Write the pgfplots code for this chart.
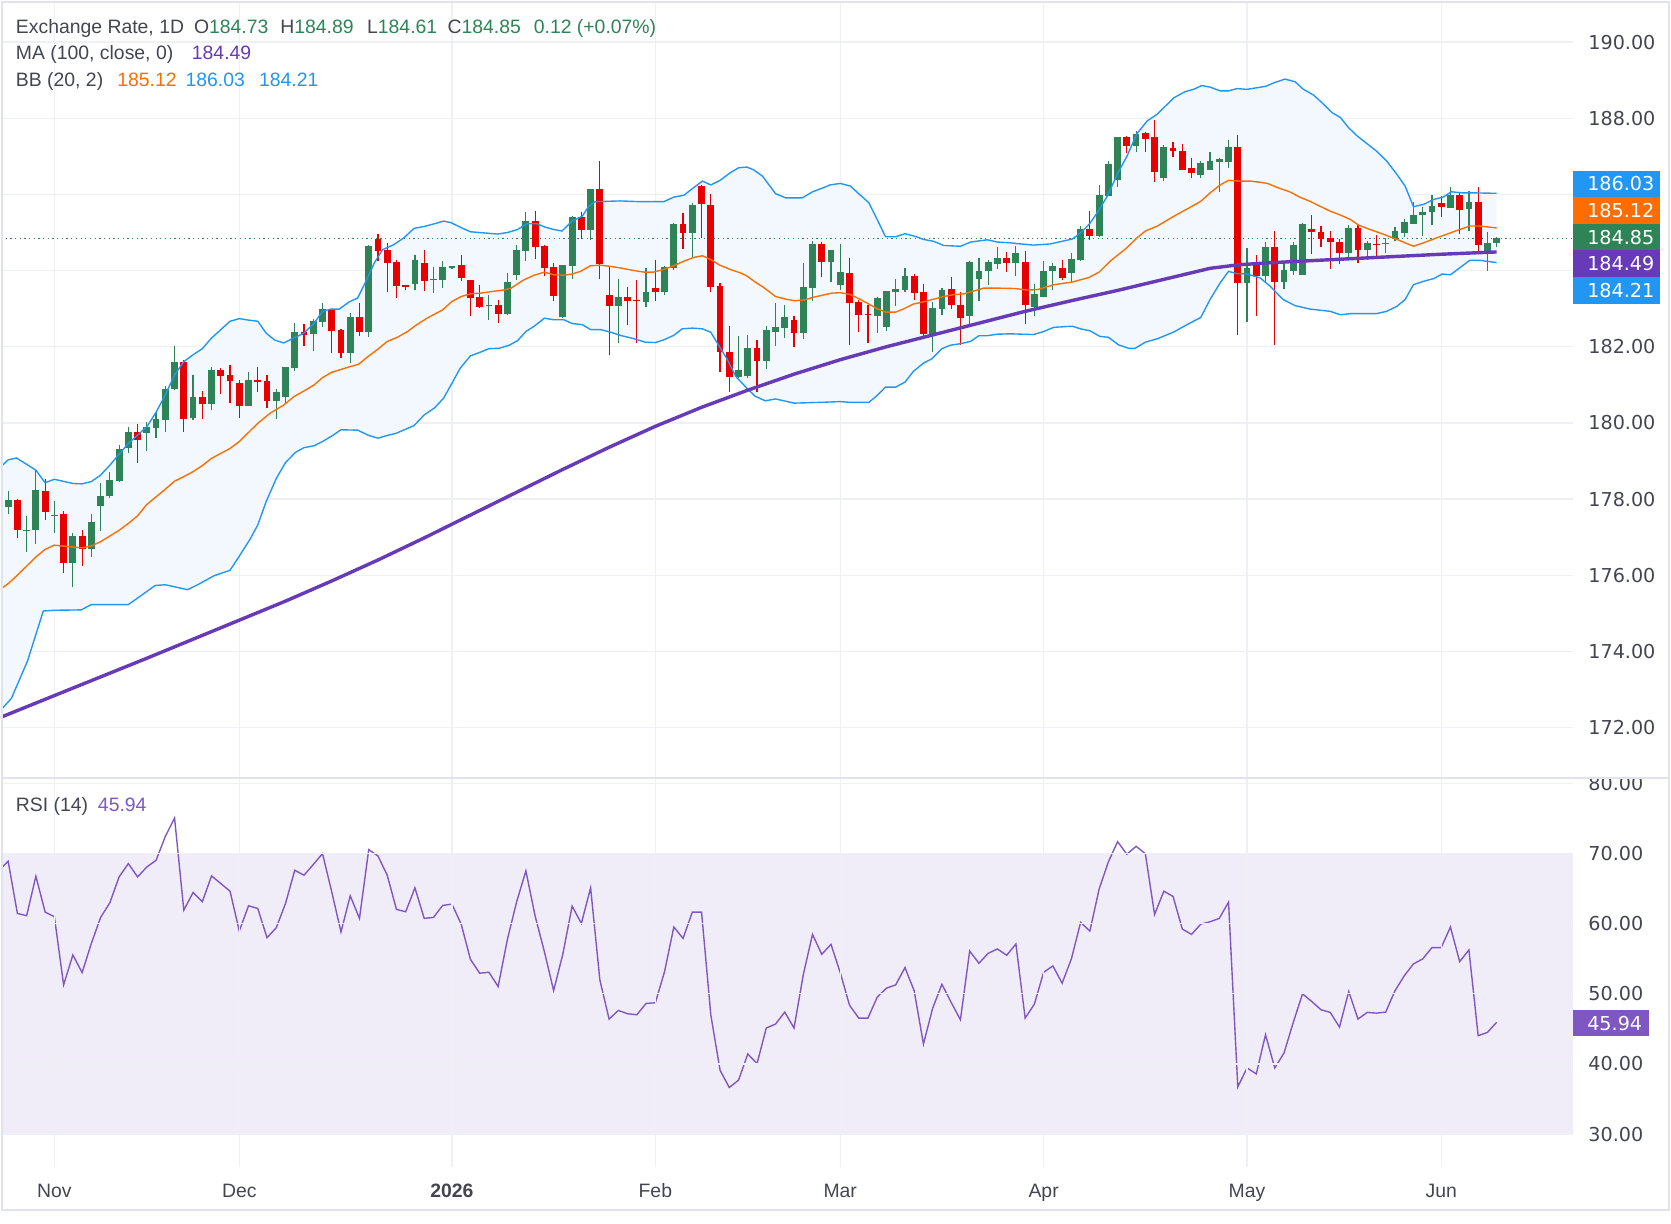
\documentclass[border=0pt]{standalone}
\usepackage{fontspec}
\setmainfont{Liberation Sans}
\newfontfamily\tickfont{DejaVu Sans}
\usepackage{pgfplots}
\pgfplotsset{compat=1.18}
\usepackage{pgfplotstable}

\definecolor{upc}{HTML}{2E8456}
\definecolor{dnc}{HTML}{E60000}
\definecolor{bbblue}{HTML}{2196F3}
\definecolor{bborange}{HTML}{FF6D00}
\definecolor{mapurple}{HTML}{673AB7}
\definecolor{rsipurple}{HTML}{7E57C2}
\definecolor{rsiband}{HTML}{F0ECF8}
\definecolor{bbfill}{HTML}{F2F8FE}
\definecolor{gridc}{HTML}{EEF0F5}
\definecolor{txt}{HTML}{434651}
\definecolor{framec}{HTML}{E0E3EB}
\definecolor{dashc}{HTML}{787B86}

\newcommand\hf{\fontsize{9.1}{11}\selectfont}
\newcommand\tf{\tickfont\fontsize{9}{10}\selectfont}

% daily candles: index, open, high, low, close
\pgfplotstableread[row sep=\\]{
i o h l c\\
0 177.78 178.22 177.62 177.98\\
2 177.16 177.56 176.61 177.18\\
3 177.18 178.79 176.81 178.25\\
5 177.56 177.96 177.10 177.58\\
7 176.33 177.11 175.68 177.04\\
9 176.68 177.60 176.49 177.40\\
10 177.83 178.43 177.16 178.09\\
11 178.07 178.72 178.04 178.51\\
12 178.48 179.42 178.46 179.32\\
13 179.33 179.90 179.20 179.77\\
15 179.73 180.02 179.25 179.88\\
16 179.86 180.28 179.60 180.09\\
17 180.07 180.98 179.77 180.90\\
18 180.89 182.01 180.87 181.61\\
20 180.12 181.25 180.08 180.69\\
22 180.49 181.46 180.33 181.38\\
26 180.44 181.35 180.44 181.14\\
29 180.57 180.89 180.11 180.82\\
30 180.68 181.46 180.50 181.46\\
31 181.44 182.63 181.37 182.40\\
33 182.33 182.74 181.89 182.67\\
34 182.64 183.14 182.51 182.98\\
37 181.83 182.88 181.57 182.77\\
39 182.39 184.68 182.25 184.64\\
44 183.65 184.42 183.49 184.27\\
46 183.75 184.09 183.41 183.78\\
47 183.75 184.25 183.54 184.09\\
48 184.07 184.12 184.03 184.11\\
52 183.06 183.37 182.71 183.08\\
54 182.86 183.94 182.84 183.69\\
55 183.88 184.67 183.75 184.54\\
56 184.51 185.54 184.25 185.30\\
60 182.77 184.14 182.75 184.14\\
61 184.11 185.43 183.78 185.40\\
63 185.07 186.14 184.81 186.14\\
66 183.07 183.77 182.10 183.30\\
69 183.17 184.06 183.04 183.43\\
71 183.44 184.11 183.35 184.09\\
72 184.07 185.25 184.02 185.22\\
74 184.99 185.78 184.35 185.72\\
79 181.20 182.27 181.18 181.38\\
80 181.22 182.30 181.18 181.96\\
82 181.62 182.54 181.41 182.43\\
83 182.40 183.14 182.02 182.51\\
84 182.49 183.09 182.23 182.77\\
86 182.36 184.19 182.20 183.56\\
87 183.54 184.77 183.20 184.69\\
89 184.23 184.54 183.70 184.54\\
90 183.62 184.69 183.49 183.96\\
94 182.81 183.31 182.36 183.27\\
95 182.52 183.46 182.41 183.46\\
96 183.44 183.77 183.07 183.51\\
97 183.48 184.06 183.44 183.85\\
100 182.28 183.17 181.86 183.01\\
101 182.99 183.54 182.84 183.48\\
104 182.81 184.25 182.60 184.22\\
105 183.78 184.32 183.20 183.98\\
106 183.98 184.27 183.62 184.22\\
107 184.17 184.61 184.04 184.32\\
109 184.20 184.64 183.85 184.46\\
111 183.05 183.64 182.82 183.38\\
112 183.32 184.25 183.30 183.98\\
113 183.98 184.19 183.48 184.11\\
115 183.94 184.46 183.70 184.30\\
116 184.27 185.17 184.25 185.10\\
118 184.91 186.25 184.89 185.98\\
119 185.96 186.88 185.96 186.80\\
120 186.39 187.51 186.20 187.51\\
122 187.28 187.67 187.12 187.59\\
125 186.44 187.30 186.36 187.25\\
129 186.52 186.88 186.44 186.82\\
130 186.65 187.11 186.65 186.88\\
131 186.86 186.95 186.07 186.93\\
132 186.86 187.43 186.70 187.25\\
134 183.68 184.59 182.65 184.06\\
136 183.85 184.75 183.67 184.61\\
138 183.70 184.25 183.52 184.01\\
139 183.98 184.75 183.89 184.67\\
140 183.89 185.25 183.89 185.22\\
145 184.45 185.20 184.32 185.12\\
147 184.55 184.77 184.28 184.72\\
149 184.70 184.86 184.46 184.73\\
150 184.82 185.14 184.77 185.04\\
151 184.98 185.35 184.88 185.27\\
152 185.22 185.80 185.22 185.46\\
153 185.46 185.67 184.90 185.54\\
154 185.54 185.98 185.19 185.69\\
156 185.65 186.19 185.65 185.98\\
158 185.61 186.09 185.03 185.80\\
160 184.52 185.01 183.99 184.72\\
161 184.73 184.89 184.61 184.85\\
}\upcandles

\pgfplotstableread[row sep=\\]{
i o h l c\\
1 177.98 178.00 176.97 177.18\\
4 178.22 178.53 177.44 177.65\\
6 177.61 177.68 176.07 176.31\\
8 177.04 177.19 176.25 176.68\\
14 179.77 179.96 178.96 179.54\\
19 181.61 181.65 179.75 180.10\\
21 180.69 180.85 180.11 180.49\\
23 181.38 181.43 180.75 181.23\\
24 181.25 181.51 180.52 181.10\\
25 181.04 181.14 180.12 180.44\\
27 181.14 181.46 180.81 181.07\\
28 181.09 181.26 180.39 180.57\\
32 182.40 182.61 182.02 182.31\\
35 182.98 183.00 181.83 182.41\\
36 182.43 182.47 181.70 181.83\\
38 182.77 183.16 182.27 182.39\\
40 184.82 184.95 184.26 184.52\\
41 184.54 184.72 183.44 184.20\\
42 184.22 184.27 183.28 183.60\\
43 183.61 183.62 183.50 183.57\\
45 184.19 184.54 183.46 183.73\\
49 184.14 184.42 183.72 183.81\\
50 183.75 183.75 182.81 183.28\\
51 183.31 183.63 183.02 183.04\\
53 183.09 183.24 182.62 182.86\\
57 185.30 185.56 184.31 184.61\\
58 184.64 184.67 183.86 184.07\\
59 184.09 184.19 183.19 183.33\\
62 185.40 185.54 184.83 185.07\\
64 186.14 186.88 183.78 184.18\\
65 183.35 184.11 181.78 183.07\\
67 183.30 183.56 182.57 183.20\\
68 183.21 183.75 182.10 183.20\\
70 183.54 184.27 183.19 183.44\\
73 185.22 185.51 184.57 184.99\\
75 186.22 186.26 184.86 185.74\\
76 185.72 186.00 183.44 183.57\\
77 183.59 183.68 181.33 181.87\\
78 181.87 182.54 180.81 181.20\\
81 181.96 182.17 180.81 181.62\\
85 182.69 182.80 181.99 182.36\\
88 184.69 184.75 183.83 184.23\\
91 183.93 184.32 182.04 183.15\\
92 183.17 183.23 182.39 182.83\\
93 182.85 183.10 182.10 182.83\\
98 183.85 183.90 183.22 183.40\\
99 183.43 183.64 182.26 182.33\\
102 183.51 183.82 182.99 183.10\\
103 183.09 183.43 182.04 182.75\\
108 184.32 184.48 183.96 184.20\\
110 184.22 184.51 182.60 183.10\\
114 184.06 184.27 183.75 183.81\\
117 185.10 185.56 184.81 184.91\\
121 187.51 187.54 187.10 187.28\\
123 187.61 187.64 187.12 187.46\\
124 187.51 187.96 186.33 186.60\\
126 187.22 187.38 186.99 187.14\\
127 187.14 187.32 186.65 186.65\\
128 186.69 186.96 186.44 186.57\\
133 187.25 187.56 182.31 183.68\\
135 184.14 184.40 182.80 183.85\\
137 184.61 185.04 182.04 183.70\\
141 185.09 185.46 184.43 185.01\\
142 185.01 185.17 184.62 184.83\\
143 184.85 185.04 184.04 184.76\\
144 184.75 184.83 184.18 184.47\\
146 185.12 185.20 184.20 184.55\\
148 184.69 184.93 184.39 184.68\\
155 185.77 185.96 185.40 185.67\\
157 185.98 186.04 184.96 185.59\\
159 185.80 186.20 184.51 184.68\\
}\dncandles

% Bollinger bands (20, 2): upper band, left to right
\pgfplotstableread[row sep=\\]{
i v\\
-1 178.80\\ 0 179.03\\ 0.9 179.08\\ 3 178.76\\ 4 178.43\\ 5 178.52\\ 7 178.41\\ 8 178.40\\
9 178.46\\ 10 178.63\\ 11 178.89\\ 12 179.18\\ 13 179.46\\ 14 179.68\\ 15 179.90\\ 16 180.28\\
17 180.74\\ 18 181.26\\ 19 181.61\\ 20 181.79\\ 21 181.95\\ 22 182.23\\ 23 182.45\\ 24 182.67\\
25 182.74\\ 26 182.70\\ 27 182.67\\ 27.9 182.36\\ 28.8 182.18\\ 29.8 182.10\\ 30.9 182.23\\
32.0 182.36\\ 33.1 182.62\\ 34.0 182.93\\ 34.9 182.99\\ 35.8 182.99\\ 36.9 183.18\\ 37.8 183.28\\
38.7 183.72\\ 39.6 184.20\\ 40.5 184.55\\ 41.7 184.68\\ 42.8 184.86\\ 43.9 185.11\\ 45.0 185.16\\
46.1 185.23\\ 47.1 185.30\\ 47.9 185.26\\ 48.9 185.14\\ 50.0 185.02\\ 51.5 184.99\\ 52.9 184.96\\
54.0 185.00\\ 55.1 185.08\\ 56.1 185.23\\ 57.2 185.23\\ 58.1 185.14\\ 59.0 185.08\\ 59.9 185.04\\
61.0 185.30\\ 62.1 185.43\\ 62.8 185.69\\ 63.5 185.81\\ 64.8 185.82\\ 66.2 185.83\\ 68.4 185.81\\
70.9 185.81\\ 72.0 185.93\\ 73.1 185.98\\ 74.2 186.19\\ 75.1 186.35\\ 76.0 186.25\\ 77.0 186.37\\
78.1 186.57\\ 79.0 186.70\\ 79.9 186.72\\ 80.6 186.65\\ 81.6 186.48\\ 83.0 186.02\\ 84.1 185.91\\
85.9 185.91\\ 87.0 186.07\\ 88.0 186.16\\ 88.9 186.25\\ 90.0 186.29\\ 91.1 186.22\\ 92.0 186.02\\
93.1 185.78\\ 94.0 185.34\\ 94.9 184.89\\ 96.0 184.89\\ 97.0 184.97\\ 98.1 184.90\\ 99.0 184.82\\
100.1 184.77\\ 101.2 184.66\\ 103.0 184.64\\ 104.1 184.75\\ 105.9 184.81\\ 107.0 184.75\\
108.4 184.73\\ 109.1 184.71\\ 110.9 184.67\\ 112.7 184.70\\ 115.1 184.83\\ 116.0 184.99\\
116.9 185.21\\ 117.8 185.52\\ 118.9 185.96\\ 120.0 186.55\\ 121.0 187.00\\ 122.1 187.60\\
123.2 187.93\\ 124.3 188.11\\ 125.0 188.28\\ 126.1 188.54\\ 127.3 188.70\\ 128.2 188.76\\
129.1 188.86\\ 130.0 188.82\\ 131.1 188.72\\ 132.0 188.72\\ 132.9 188.78\\ 134.0 188.76\\
136.0 188.84\\ 137.0 188.94\\ 138.1 189.03\\ 139.2 188.96\\ 140.1 188.76\\ 141.2 188.61\\
142.1 188.41\\ 143.2 188.15\\ 144.1 188.02\\ 145.0 187.75\\ 145.9 187.54\\ 147.0 187.33\\
148.0 187.14\\ 149.1 186.88\\ 150.2 186.53\\ 151.1 186.22\\ 152.0 185.68\\ 153.1 185.74\\
154.2 185.87\\ 155.2 185.93\\ 156.1 186.07\\ 157.4 186.04\\ 158.8 186.04\\ 161.0 186.03\\
}\bbupper

% middle band
\pgfplotstableread[row sep=\\]{
i v\\
-1 175.60\\ 0 175.78\\ 1 176.00\\ 3 176.48\\ 4 176.68\\ 5 176.79\\ 7 176.74\\ 8 176.72\\
9 176.77\\ 10 176.88\\ 11 177.03\\ 12 177.18\\ 13 177.36\\ 14 177.56\\ 15 177.86\\ 16 178.06\\
17 178.26\\ 18 178.47\\ 19 178.59\\ 20 178.72\\ 21 178.88\\ 22 179.07\\ 23 179.20\\ 24 179.33\\
25 179.51\\ 26 179.75\\ 27 179.99\\ 28.3 180.25\\ 29.8 180.47\\ 30.9 180.69\\ 32.0 180.84\\
33.1 181.00\\ 34.0 181.19\\ 35.0 181.33\\ 35.8 181.39\\ 37.0 181.48\\ 37.9 181.54\\ 38.8 181.72\\
39.9 181.92\\ 41.0 182.14\\ 42.1 182.25\\ 43.2 182.40\\ 44.2 182.58\\ 45.3 182.75\\ 47.0 182.97\\
48.0 183.19\\ 49.0 183.32\\ 50.0 183.39\\ 51.1 183.41\\ 52.6 183.46\\ 53.6 183.49\\ 54.4 183.54\\
55.8 183.76\\ 56.9 183.88\\ 58.0 183.96\\ 59.0 183.89\\ 60.1 183.88\\ 61.0 183.91\\ 61.9 183.98\\
63.0 184.13\\ 64.1 184.14\\ 65.2 184.11\\ 66.2 184.07\\ 67.7 184.00\\ 68.8 183.96\\ 69.8 183.96\\
70.9 184.03\\ 72.0 184.13\\ 73.1 184.25\\ 74.2 184.35\\ 75.1 184.39\\ 76.0 184.29\\ 77.0 184.14\\
78.1 184.03\\ 79.2 183.94\\ 79.9 183.86\\ 80.8 183.70\\ 81.7 183.56\\ 83.0 183.32\\ 84.1 183.25\\
85.1 183.21\\ 86.1 183.23\\ 87.1 183.30\\ 88.0 183.35\\ 89.1 183.41\\ 90.0 183.42\\ 91.1 183.37\\
92.2 183.24\\ 93.1 183.12\\ 94.0 183.00\\ 94.9 182.91\\ 96.0 182.91\\ 96.9 183.00\\ 97.9 183.12\\
99.0 183.18\\ 100.1 183.25\\ 101.2 183.32\\ 102.3 183.37\\ 103.4 183.39\\ 104.4 183.46\\
105.5 183.54\\ 107.0 183.54\\ 108.9 183.53\\ 110.2 183.49\\ 111.3 183.50\\ 113.1 183.63\\
115.1 183.70\\ 116.9 183.82\\ 118.0 183.96\\ 119.2 184.25\\ 121.0 184.60\\ 122.1 184.86\\
123.0 185.04\\ 124.3 185.17\\ 126.1 185.43\\ 127.9 185.67\\ 129.0 185.82\\ 130.0 186.04\\
131.1 186.25\\ 132.0 186.37\\ 133.3 186.35\\ 134.4 186.35\\ 135.4 186.32\\ 136.2 186.29\\
137.2 186.19\\ 138.7 186.06\\ 139.7 185.93\\ 140.8 185.82\\ 141.9 185.69\\ 143.0 185.56\\
144.1 185.46\\ 145.2 185.34\\ 146.1 185.19\\ 147.3 185.08\\ 148.7 184.96\\ 150.2 184.82\\
152.0 184.64\\ 153.1 184.73\\ 154.5 184.86\\ 156.0 184.99\\ 157.0 185.08\\ 158.1 185.17\\
159.2 185.17\\ 161.0 185.12\\
}\bbmid

% lower band, right to left (closes the band outline after the upper band)
\pgfplotstableread[row sep=\\]{
i v\\
161.0 184.21\\ 159.2 184.27\\ 158.1 184.27\\ 157.1 184.09\\ 156.0 183.89\\ 155.1 183.91\\
154.2 183.79\\ 153.1 183.72\\ 152.0 183.63\\ 151.1 183.24\\ 150.2 183.06\\ 149.1 182.93\\
148.0 182.87\\ 145.2 182.87\\ 144.1 182.84\\ 143.0 182.93\\ 140.8 182.99\\ 139.2 183.08\\
137.9 183.24\\ 136.5 183.59\\ 135.4 183.81\\ 134.0 183.91\\ 132.9 183.92\\ 132.0 183.98\\
131.1 183.68\\ 130.0 183.24\\ 129.0 182.77\\ 127.5 182.58\\ 126.1 182.39\\ 124.3 182.21\\
123.0 182.12\\ 121.9 181.96\\ 121.2 181.96\\ 120.1 182.05\\ 119.0 182.25\\ 118.1 182.27\\
117.0 182.42\\ 116.0 182.47\\ 115.1 182.54\\ 113.1 182.51\\ 112.0 182.40\\ 110.9 182.32\\
108.4 182.34\\ 107.0 182.33\\ 105.9 182.29\\ 105.0 182.29\\ 104.1 182.14\\ 103.0 182.08\\
101.9 182.04\\ 101.0 181.95\\ 99.9 181.68\\ 99.0 181.57\\ 97.9 181.35\\ 97.0 181.07\\
96.0 180.94\\ 94.9 180.94\\ 94.0 180.72\\ 93.1 180.54\\ 91.1 180.54\\ 90.0 180.56\\
87.9 180.54\\ 85.0 180.52\\ 83.0 180.63\\ 81.9 180.58\\ 80.8 180.70\\ 79.9 180.91\\
78.7 181.22\\ 77.8 181.66\\ 76.7 182.10\\ 76.0 182.38\\ 75.1 182.47\\ 74.0 182.49\\
72.9 182.47\\ 72.0 182.30\\ 70.9 182.18\\ 70.0 182.11\\ 68.9 182.12\\ 67.7 182.21\\
66.2 182.30\\ 65.2 182.38\\ 64.1 182.45\\ 63.0 182.45\\ 62.1 182.58\\ 61.0 182.61\\
60.1 182.71\\ 59.0 182.71\\ 58.0 182.75\\ 56.9 182.54\\ 56.0 182.40\\ 55.1 182.16\\
54.2 182.04\\ 53.1 181.96\\ 52.0 181.95\\ 51.1 181.86\\ 50.0 181.76\\ 48.9 181.44\\
48.0 181.04\\ 47.1 180.65\\ 46.1 180.39\\ 45.0 180.21\\ 43.9 179.93\\ 42.0 179.73\\
41.0 179.67\\ 40.0 179.60\\ 39.0 179.67\\ 37.8 179.81\\ 36.0 179.82\\ 35.1 179.67\\
34.0 179.51\\ 33.1 179.40\\ 32.0 179.35\\ 31.1 179.23\\ 30.0 178.96\\ 29.0 178.54\\
27.9 177.93\\ 27.0 177.32\\ 26.2 176.96\\ 25.0 176.50\\ 24.0 176.13\\ 22.3 175.99\\
20.5 175.75\\ 19.4 175.62\\ 17.0 175.75\\ 15.9 175.73\\ 14.0 175.40\\ 13.0 175.23\\
9.0 175.23\\ 7.9 175.09\\ 5 175.08\\ 3.8 175.06\\ 2.1 173.75\\ 0.36 172.77\\ -1 172.40\\
}\bblower

\pgfplotstablevertcat{\bbband}{\bbupper}
\pgfplotstablevertcat{\bbband}{\bblower}

% 100-day moving average of the close
\pgfplotstableread[row sep=\\]{
i v\\
-1 172.25\\ 5 172.84\\ 10 173.33\\ 15 173.82\\ 20 174.32\\ 25 174.82\\ 30 175.32\\
35 175.85\\ 40 176.40\\ 45 176.98\\ 50 177.58\\ 55 178.18\\ 60 178.78\\ 65 179.36\\
70 179.91\\ 75 180.41\\ 80 180.86\\ 85 181.28\\ 90 181.66\\ 95 182.00\\ 100 182.31\\
105 182.62\\ 110 182.93\\ 115 183.21\\ 120 183.48\\ 125 183.77\\ 130 184.06\\ 133 184.15\\
136 184.20\\ 140 184.25\\ 145 184.31\\ 150 184.37\\ 155 184.43\\ 161 184.49\\
}\mahundred

% RSI (14)
\pgfplotstableread[row sep=\\]{
i r\\
-1 67.6\\ 0 68.91\\ 1 61.47\\ 2 61.14\\ 3 66.78\\ 4 61.66\\ 5 61.00\\ 6 51.28\\ 7 55.55\\
8 53.03\\ 9 57.20\\ 10 60.90\\ 11 62.99\\ 12 66.68\\ 13 68.58\\ 14 66.68\\ 15 68.10\\ 16 69.05\\
17 72.46\\ 18 75.07\\ 19 61.94\\ 20 64.45\\ 21 63.13\\ 22 66.82\\ 23 65.73\\ 24 64.64\\ 25 58.96\\
26 62.56\\ 27 62.18\\ 28 58.01\\ 29 59.43\\ 30 62.89\\ 31 67.63\\ 32 66.92\\ 33 68.44\\ 34 70.00\\
35 64.55\\ 36 58.82\\ 37 63.98\\ 38 60.76\\ 39 70.57\\ 40 69.67\\ 41 66.92\\ 42 62.04\\ 43 61.71\\
44 65.12\\ 45 60.76\\ 46 60.90\\ 47 62.61\\ 48 62.80\\ 49 59.95\\ 50 54.93\\ 51 52.94\\ 52 53.08\\
53 51.04\\ 54 57.77\\ 55 63.13\\ 56 67.54\\ 57 61.09\\ 58 56.02\\ 59 50.47\\ 60 55.69\\ 61 62.51\\
62 60.05\\ 63 65.12\\ 64 51.99\\ 65 46.40\\ 66 47.63\\ 67 47.16\\ 68 47.01\\ 69 48.63\\ 70 48.72\\
71 53.18\\ 72 59.53\\ 73 57.91\\ 74 61.66\\ 75 61.66\\ 76 47.01\\ 77 39.10\\ 78 36.64\\ 79 37.68\\
80 41.42\\ 81 40.05\\ 82 45.12\\ 83 45.69\\ 84 47.39\\ 85 45.12\\ 86 52.70\\ 87 58.48\\ 88 55.64\\
89 57.06\\ 90 53.03\\ 91 48.39\\ 92 46.54\\ 93 46.54\\ 94 49.53\\ 95 50.81\\ 96 51.28\\ 97 53.74\\
98 50.43\\ 99 42.84\\ 100 47.96\\ 101 51.37\\ 102 48.77\\ 103 46.30\\ 104 56.11\\ 105 54.36\\
106 55.78\\ 107 56.40\\ 108 55.50\\ 109 57.11\\ 110 46.54\\ 111 48.53\\ 112 53.08\\ 113 53.98\\
114 51.52\\ 115 54.98\\ 116 60.19\\ 117 58.96\\ 118 64.93\\ 119 68.82\\ 120 71.71\\ 121 69.91\\
122 71.04\\ 123 70.00\\ 124 61.33\\ 125 64.64\\ 126 63.89\\ 127 59.24\\ 128 58.48\\ 129 59.95\\
130 60.28\\ 131 60.76\\ 132 63.08\\ 133 36.73\\ 134 39.43\\ 135 38.58\\ 136 44.17\\ 137 39.43\\
138 41.56\\ 139 45.92\\ 140 50.00\\ 141 48.91\\ 142 47.73\\ 143 47.35\\ 144 45.26\\ 145 50.33\\
146 46.40\\ 147 47.35\\ 148 47.25\\ 149 47.39\\ 150 50.43\\ 151 52.56\\ 152 54.27\\ 153 54.98\\
154 56.59\\ 155 56.59\\ 156 59.53\\ 157 54.60\\ 158 56.26\\ 159 44.03\\ 160 44.50\\ 161 45.94\\
}\rsitable

\pgfplotsset{
  panel/.style={
    scale only axis, width=738pt,
    xmin=-0.79, xmax=169.26,
    axis line style={draw=none}, major tick length=0pt,
    xtick={5,25,48,70,90,112,134,155},
    grid=major, major grid style={gridc, line width=0.6pt},
    yticklabel pos=right, scaled y ticks=false,
    yticklabel style={font=\tf, text=txt, anchor=west, inner sep=0pt, xshift=7pt},
  },
  candle/.style={mark=none, forget plot, line cap=butt,
    quiver/every arrow/.style={-, line cap=butt}},
}

\begin{document}
\begin{tikzpicture}

% price panel (the 184 and 186 labels sit under the value tags)
\begin{axis}[panel, at={(0,0)}, anchor=north west, height=365pt,
  ymin=170.67, ymax=191.09, ytick={172,174,...,190}, xticklabels={},
  yticklabels={172.00,174.00,176.00,178.00,180.00,182.00,,,188.00,190.00}]
  \addplot[fill=bbfill, draw=none, forget plot] table[x=i, y=v] {\bbband};
  % last close
  \addplot[upc, line width=0.5pt, dash pattern=on 0.6pt off 1.6pt, forget plot]
    coordinates {(-0.79,184.85) (169.26,184.85)};
  % wicks
  \addplot[candle, draw=upc, line width=0.55pt,
    quiver={u=0, v=\thisrow{h}-\thisrow{l}}]
    table[x=i, y=l] {\upcandles};
  \addplot[candle, draw=dnc, line width=0.55pt,
    quiver={u=0, v=\thisrow{h}-\thisrow{l}}]
    table[x=i, y=l] {\dncandles};
  % bodies
  \addplot[candle, draw=upc, line width=3.2pt,
    quiver={u=0, v={max(\thisrow{c}-\thisrow{o},0.03)}}]
    table[x=i, y=o] {\upcandles};
  \addplot[candle, draw=dnc, line width=3.2pt,
    quiver={u=0, v={max(\thisrow{o}-\thisrow{c},0.03)}}]
    table[x=i, y=c] {\dncandles};
  % indicators
  \addplot[bbblue, line width=0.65pt] table[x=i, y=v] {\bbupper};
  \addplot[bbblue, line width=0.65pt] table[x=i, y=v] {\bblower};
  \addplot[bborange, line width=0.65pt] table[x=i, y=v] {\bbmid};
  \addplot[mapurple, line width=1.6pt] table[x=i, y=v] {\mahundred};
\end{axis}

% RSI panel
\begin{axis}[panel, at={(0,-365pt)}, anchor=north west, height=182.5pt,
  ymin=25.3, ymax=80.76, ytick={30,40,...,80}, axis on top,
  yticklabel={\pgfmathprintnumber[fixed,fixed zerofill,precision=2,assume math mode=true]{\tick}},
  xticklabels={Nov,Dec,\textbf{2026},Feb,Mar,Apr,May,Jun},
  xticklabel style={font=\hf, text=txt, anchor=base, inner sep=0pt, yshift=-14.3pt}]
  \fill[rsiband] (axis cs:-0.79,30) rectangle (axis cs:169.26,70);
  \draw[dashc, line width=0.5pt, dash pattern=on 2.7pt off 1.9pt] (axis cs:-0.79,70) -- (axis cs:169.26,70);
  \draw[dashc, line width=0.5pt, dash pattern=on 2.7pt off 1.9pt] (axis cs:-0.79,50) -- (axis cs:169.26,50);
  \draw[dashc, line width=0.5pt, dash pattern=on 2.7pt off 1.9pt] (axis cs:-0.79,30) -- (axis cs:169.26,30);
  \addplot[rsipurple, line width=0.65pt] table[x=i, y=r] {\rsitable};
\end{axis}

% frame and panel separator
\fill[white] (738pt,-357pt) rectangle (783pt,-365pt);
\draw[framec, line width=0.9pt] (0.45pt,-0.45pt) rectangle (783.2pt,-567.6pt);
\draw[framec, line width=0.8pt] (0,-365pt) -- (783.2pt,-365pt);

% price scale value tags
\fill[bbblue]    (738pt,-79.75pt)  rectangle (779pt,-92.25pt);
\fill[bborange]  (738pt,-92.25pt)  rectangle (779pt,-104.75pt);
\fill[upc]       (738pt,-104.75pt) rectangle (779pt,-117.25pt);
\fill[mapurple]  (738pt,-117.25pt) rectangle (779pt,-129.75pt);
\fill[bbblue]    (738pt,-129.75pt) rectangle (779pt,-142.25pt);
\fill[rsipurple] (738pt,-473.75pt) rectangle (773.5pt,-486.25pt);
\begin{scope}[every node/.style={anchor=base west, inner sep=0pt, text=white, font=\tf}]
  \node at (744.5pt,-89.25pt)  {186.03};
  \node at (744.5pt,-101.75pt) {185.12};
  \node at (744.5pt,-114.25pt) {184.85};
  \node at (744.5pt,-126.75pt) {184.49};
  \node at (744.5pt,-139.25pt) {184.21};
  \node at (744.5pt,-483.25pt) {45.94};
\end{scope}

% legend lines
\begin{scope}[every node/.style={anchor=base west, inner sep=0pt, font=\hf, text=txt}]
  \node at (6.9pt,-15.25pt) {Exchange Rate, 1D};
  \node at (90.5pt,-15.25pt) {O\textcolor{upc}{184.73}};
  \node at (131pt,-15.25pt) {H\textcolor{upc}{184.89}};
  \node at (171.75pt,-15.25pt) {L\textcolor{upc}{184.61}};
  \node at (209.5pt,-15.25pt) {C\textcolor{upc}{184.85}};
  \node[text=upc] at (250pt,-15.25pt) {0.12 (+0.07\%)};
  \node at (6.9pt,-27.75pt) {MA (100, close, 0)};
  \node[text=mapurple] at (89.5pt,-27.75pt) {184.49};
  \node at (6.9pt,-40.25pt) {BB (20, 2)};
  \node[text=bborange] at (54.5pt,-40.25pt) {185.12};
  \node[text=bbblue] at (86.5pt,-40.25pt) {186.03};
  \node[text=bbblue] at (121pt,-40.25pt) {184.21};
  \node at (6.9pt,-380.75pt) {RSI (14)};
  \node[text=rsipurple] at (45.4pt,-380.75pt) {45.94};
\end{scope}
\path (0,0) rectangle (784pt,-574pt);
\end{tikzpicture}
\end{document}
